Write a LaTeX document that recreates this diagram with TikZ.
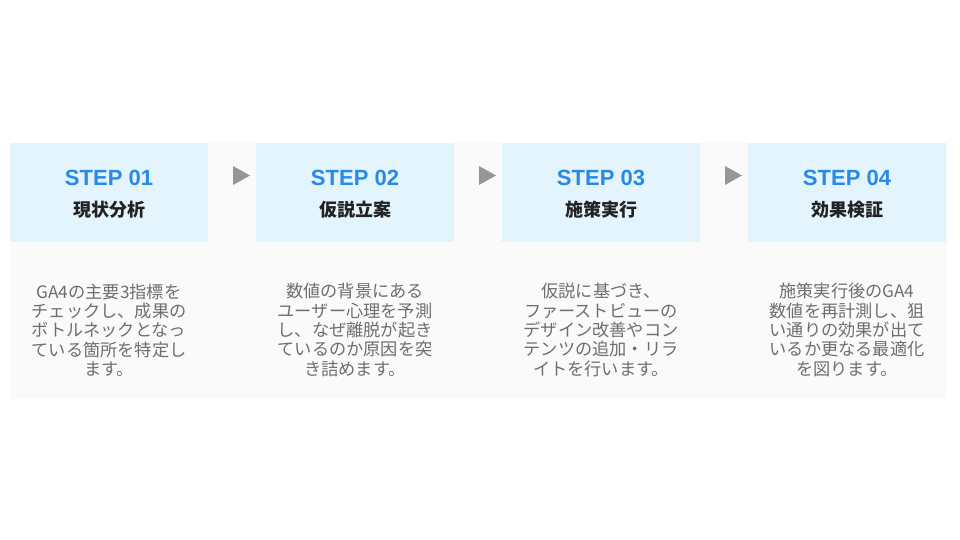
\documentclass[tikz,border=0pt]{standalone}
\usepackage{fontspec}
\setmainfont{Liberation Sans}
\newfontfamily\jpfont{Noto Sans CJK JP}
\begin{document}
\begin{tikzpicture}[x=1pt, y=-1pt,
    steplabel/.style={font=\bfseries\fontsize{22}{24}\selectfont, text=stepblue, inner sep=0pt},
    steptitle/.style={font=\jpfont\bfseries\fontsize{18}{20}\selectfont, text=titledark, inner sep=0pt},
    stepbody/.style={font=\jpfont\fontsize{17.2}{19.3}\selectfont, text=bodygrey, align=center, inner sep=0pt}]
        \definecolor{headblue}{RGB}{227,244,253}
        \definecolor{panelgrey}{RGB}{250,250,250}
        \definecolor{stepblue}{RGB}{38,138,230}
        \definecolor{titledark}{RGB}{34,34,34}
        \definecolor{bodygrey}{RGB}{110,110,110}
        \definecolor{arrowgrey}{RGB}{150,150,150}

        \useasboundingbox (0,0) rectangle (960,540);
        \fill[panelgrey] (10,143) rectangle (947,399);

         \fill[headblue] (10,143) rectangle (208,242);
         \node[steplabel] (step1) at (109,178) {STEP 01};
         \node[steptitle] (title1) at (109,210) {現状分析};
         \node[stepbody] (body1) at (109,330) {GA4の主要3指標を\\チェックし、成果の\\ボトルネックとなっ\\ている箇所を特定し\\ます。};
         \fill[arrowgrey] (233,166) -- (250,175.5) -- (233,185) -- cycle;

         \fill[headblue] (256,143) rectangle (454,242);
         \node[steplabel] (step2) at (355,178) {STEP 02};
         \node[steptitle] (title2) at (355,210) {仮説立案};
         \node[stepbody] (body2) at (355,330) {数値の背景にある\\ユーザー心理を予測\\し、なぜ離脱が起き\\ているのか原因を突\\き詰めます。};
         \fill[arrowgrey] (479,166) -- (496,175.5) -- (479,185) -- cycle;

         \fill[headblue] (502,143) rectangle (700,242);
         \node[steplabel] (step3) at (601,178) {STEP 03};
         \node[steptitle] (title3) at (601,210) {施策実行};
         \node[stepbody] (body3) at (601,330) {仮説に基づき、\\ファーストビューの\\デザイン改善やコン\\テンツの追加・リラ\\イトを行います。};
         \fill[arrowgrey] (725,166) -- (742,175.5) -- (725,185) -- cycle;

         \fill[headblue] (748,143) rectangle (946,242);
         \node[steplabel] (step4) at (847,178) {STEP 04};
         \node[steptitle] (title4) at (847,210) {効果検証};
         \node[stepbody] (body4) at (847,330) {施策実行後のGA4\\数値を再計測し、狙\\い通りの効果が出て\\いるか更なる最適化\\を図ります。};

    \end{tikzpicture}
\end{document}
